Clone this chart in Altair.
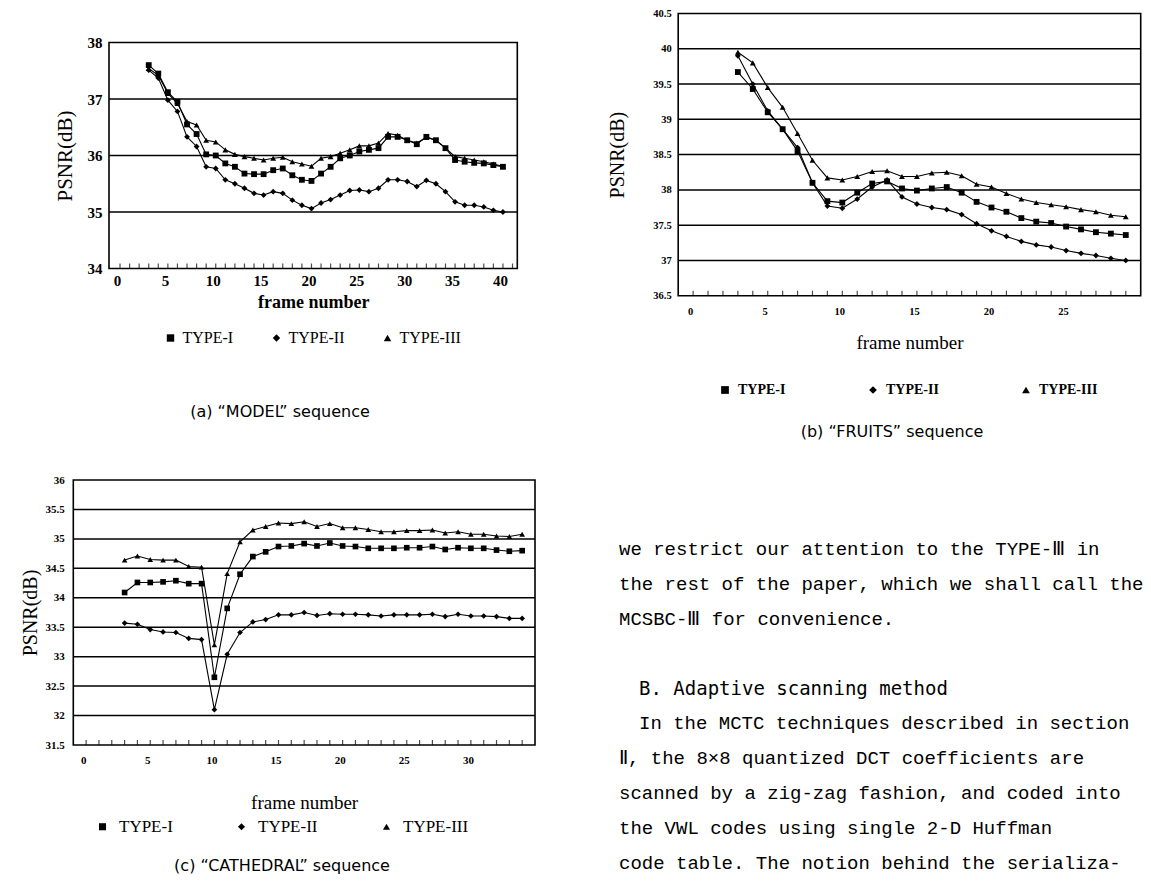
import altair as alt
import pandas as pd

SERIES = ["TYPE-I", "TYPE-II", "TYPE-III"]
SHAPES = ["square", "diamond", "triangle-up"]

# ---------------- (a) "MODEL" sequence ----------------
a_frames = list(range(3, 41))
a_type1 = [37.6, 37.45, 37.12, 36.95, 36.55, 36.38, 36.02, 36.0, 35.86, 35.80,
           35.68, 35.67, 35.67, 35.74, 35.77, 35.65, 35.57, 35.55, 35.68, 35.80,
           35.95, 36.0, 36.07, 36.1, 36.13, 36.33, 36.33, 36.27, 36.2, 36.33,
           36.27, 36.13, 35.92, 35.89, 35.87, 35.86, 35.83, 35.8]
a_type2 = [37.51, 37.37, 36.98, 36.78, 36.33, 36.16, 35.8, 35.77, 35.57, 35.5,
           35.42, 35.33, 35.3, 35.36, 35.33, 35.21, 35.12, 35.06, 35.16, 35.22,
           35.30, 35.38, 35.39, 35.36, 35.42, 35.57, 35.57, 35.54, 35.45, 35.56,
           35.50, 35.36, 35.18, 35.12, 35.12, 35.09, 35.03, 35.0]
a_type3 = [37.54, 37.42, 37.1, 36.92, 36.6, 36.54, 36.27, 36.24, 36.1, 36.02,
           35.98, 35.95, 35.92, 35.95, 35.97, 35.89, 35.85, 35.81, 35.95, 35.98,
           36.04, 36.1, 36.17, 36.17, 36.22, 36.39, 36.36, 36.27, 36.22, 36.32,
           36.27, 36.13, 35.98, 35.95, 35.92, 35.89, 35.85, 35.81]
a_grid = [35, 36, 37]
a_cats = list(range(0, 42))
a_xlabels = [0, 5, 10, 15, 20, 25, 30, 35, 40]
a_ylabels = [34, 35, 36, 37, 38]

# ---------------- (b) "FRUITS" sequence ----------------
b_frames = list(range(3, 30))
b_type1 = [39.67, 39.43, 39.1, 38.86, 38.55, 38.1, 37.84, 37.82, 37.96, 38.09,
           38.12, 38.02, 37.99, 38.02, 38.04, 37.96, 37.83, 37.75, 37.69, 37.6,
           37.55, 37.53, 37.48, 37.44, 37.4, 37.38, 37.36]
b_type2 = [39.9, 39.5, 39.12, 38.86, 38.6, 38.1, 37.77, 37.74, 37.87, 38.04,
           38.14, 37.9, 37.8, 37.75, 37.72, 37.65, 37.52, 37.42, 37.34, 37.27,
           37.22, 37.19, 37.14, 37.1, 37.07, 37.03, 37.0]
b_type3 = [39.95, 39.8, 39.45, 39.17, 38.8, 38.42, 38.17, 38.14, 38.19, 38.26,
           38.27, 38.19, 38.19, 38.24, 38.25, 38.2, 38.08, 38.04, 37.95, 37.87,
           37.82, 37.79, 37.76, 37.72, 37.69, 37.64, 37.62]
b_grid = [37, 37.5, 38, 38.5, 39, 39.5, 40]
b_cats = list(range(0, 30))
b_xlabels = [0, 5, 10, 15, 20, 25]
b_ylabels = [36.5, 37, 37.5, 38, 38.5, 39, 39.5, 40, 40.5]

# ---------------- (c) "CATHEDRAL" sequence ----------------
c_frames = list(range(3, 35))
c_type1 = [34.09, 34.26, 34.26, 34.27, 34.29, 34.24, 34.24, 32.65, 33.82, 34.4,
           34.7, 34.78, 34.87, 34.88, 34.92, 34.88, 34.93, 34.88, 34.87, 34.84,
           34.84, 34.84, 34.85, 34.85, 34.87, 34.82, 34.85, 34.84, 34.84, 34.81,
           34.79, 34.8]
c_type2 = [33.57, 33.55, 33.46, 33.42, 33.41, 33.31, 33.29, 32.1, 33.04, 33.41,
           33.59, 33.63, 33.71, 33.71, 33.75, 33.7, 33.73, 33.72, 33.72, 33.71,
           33.69, 33.71, 33.71, 33.71, 33.72, 33.68, 33.72, 33.69, 33.69, 33.68,
           33.65, 33.65]
c_type3 = [34.64, 34.71, 34.65, 34.64, 34.64, 34.53, 34.52, 33.2, 34.41, 34.95,
           35.15, 35.21, 35.27, 35.26, 35.29, 35.21, 35.26, 35.19, 35.19, 35.16,
           35.12, 35.12, 35.14, 35.14, 35.15, 35.1, 35.12, 35.08, 35.08, 35.05,
           35.04, 35.08]
c_grid = [32, 32.5, 33, 33.5, 34, 34.5, 35, 35.5]
c_cats = list(range(0, 35))
c_xlabels = [0, 5, 10, 15, 20, 25, 30]
c_ylabels = [31.5, 32, 32.5, 33, 33.5, 34, 34.5, 35, 35.5, 36]

captions = ["(a) \u201cMODEL\u201d sequence", "(b) \u201cFRUITS\u201d sequence",
            "(c) \u201cCATHEDRAL\u201d sequence"]

body_rows = [0, 1, 2, 5, 6, 7, 8, 9]
body_indent = [0, 0, 0, 1, 0, 0, 0, 0]
body_lines = [
    "we restrict our attention to the TYPE-\u2162 in",
    "the rest of the paper, which we shall call the",
    "MCSBC-\u2162 for convenience.",
    "In the MCTC techniques described in section",
    "\u2161, the 8\u00d78 quantized DCT coefficients are",
    "scanned by a zig-zag fashion, and coded into",
    "the VWL codes using single 2-D Huffman",
    "code table. The notion behind the serializa-",
]
heading_rows = [4]
heading_lines = ["B. Adaptive scanning method"]

# ---------------- layout (page pixels) ----------------
M = 8
W, H = 1151 - 2 * M, 887 - 2 * M
SERIF = "Liberation Serif"

LAYOUT = {
    "a": dict(box=(109, 42.5, 517.3, 268.5), xdom=[-1.15, 41.5], ydom=[34, 38],
              yfmt="d", tick_font=15, tick_weight="bold", xlab_pad=5, ylab_pad=7,
              xtitle_y=33.5, xtitle_size=18, xtitle_weight="bold",
              ytitle_x=-44, ytitle_size=21, msize=34,
              leg=dict(x=154.5, y=322, size=16, weight="normal", pad=35, off=4, sym=55)),
    "b": dict(box=(678.2, 13.5, 1140.7, 295.7), xdom=[-1, 30], ydom=[36.5, 40.5],
              yfmt="~f", tick_font=10.5, tick_weight="bold", xlab_pad=11, ylab_pad=7,
              xtitle_y=47, xtitle_size=19, xtitle_weight="normal",
              ytitle_x=-61, ytitle_size=20, msize=34,
              leg=dict(x=710, y=375, size=14, weight="bold", pad=80, off=6, sym=60)),
    "c": dict(box=(73.3, 480, 535, 745), xdom=[-1, 35], ydom=[31.5, 36],
              yfmt="~f", tick_font=11, tick_weight="bold", xlab_pad=9, ylab_pad=9,
              xtitle_y=57, xtitle_size=19, xtitle_weight="normal",
              ytitle_x=-43, ytitle_size=20, msize=32,
              leg=dict(x=86, y=810, size=17, weight="normal", pad=60, off=8, sym=50)),
}


def panel(key, frames, s1, s2, s3, grid, cats, xlabels, ylabels):
    L = LAYOUT[key]
    x0, y0, x1, y1 = L["box"]
    xr = [x0 - M, x1 - M]
    yr = [y1 - M, y0 - M]
    xdom, ydom = L["xdom"], L["ydom"]
    n = len(frames)
    df = pd.DataFrame({
        "frame": frames * 3,
        "psnr": s1 + s2 + s3,
        "series": [SERIES[0]] * n + [SERIES[1]] * n + [SERIES[2]] * n,
    })
    xs = alt.Scale(domain=xdom, range=xr, nice=False, zero=False)
    ys = alt.Scale(domain=ydom, range=yr, nice=False, zero=False)
    xaxis = alt.Axis(
        orient="bottom", offset=(y1 - M) - H, values=xlabels, format="d",
        grid=False, domain=False, ticks=False, tickSize=0,
        labelFont=SERIF, labelFontSize=L["tick_font"], labelFontWeight=L["tick_weight"],
        labelColor="black", labelPadding=L["xlab_pad"], labelOffset=-3,
        title="frame number", titleFont=SERIF, titleFontSize=L["xtitle_size"],
        titleFontWeight=L["xtitle_weight"], titleColor="black",
        titleY=L["xtitle_y"], titleBaseline="middle",
    )
    yaxis = alt.Axis(
        orient="left", offset=-(x0 - M), values=ylabels, format=L["yfmt"],
        grid=False, domain=False, ticks=False, tickSize=0,
        labelFont=SERIF, labelFontSize=L["tick_font"], labelFontWeight=L["tick_weight"],
        labelColor="black", labelPadding=L["ylab_pad"],
        title="PSNR(dB)", titleFont=SERIF, titleFontSize=L["ytitle_size"],
        titleFontWeight="normal", titleColor="black",
        titleX=L["ytitle_x"], titleBaseline="middle",
    )
    one = pd.DataFrame({"k": [0]})
    box = alt.Chart(one).mark_rect(fillOpacity=0, stroke="black", strokeWidth=1.6).encode(
        x=alt.XDatum(xdom[0], axis=xaxis, scale=xs), x2=alt.X2Datum(xdom[1]),
        y=alt.YDatum(ydom[0], axis=yaxis, scale=ys), y2=alt.Y2Datum(ydom[1]),
    )
    gridl = alt.Chart(pd.DataFrame({"g": grid})).mark_rule(color="black", strokeWidth=1.5).encode(
        y=alt.Y("g:Q", axis=yaxis, scale=ys),
        x=alt.XDatum(xdom[0], axis=xaxis, scale=xs), x2=alt.X2Datum(xdom[1]),
    )
    ticks = alt.Chart(pd.DataFrame({"t": cats})).mark_tick(
        orient="vertical", color="black", thickness=1.2, size=5, yOffset=-2.5
    ).encode(
        x=alt.X("t:Q", axis=xaxis, scale=xs),
        y=alt.YDatum(ydom[0], axis=yaxis, scale=ys),
    )
    lines = alt.Chart(df).mark_line(color="black", strokeWidth=1.1).encode(
        x=alt.X("frame:Q", scale=xs, axis=xaxis),
        y=alt.Y("psnr:Q", scale=ys, axis=yaxis),
        detail="series:N",
    )
    lg = L["leg"]
    points = alt.Chart(df).mark_point(filled=True, color="black", opacity=1, size=L["msize"]).encode(
        x=alt.X("frame:Q", scale=xs, axis=xaxis),
        y=alt.Y("psnr:Q", scale=ys, axis=yaxis),
        shape=alt.Shape(
            "series:N",
            scale=alt.Scale(domain=SERIES, range=SHAPES),
            legend=alt.Legend(
                orient="none", legendX=lg["x"], legendY=lg["y"], direction="horizontal",
                columns=3, title=None, padding=0, columnPadding=lg["pad"],
                labelOffset=lg["off"], labelFont=SERIF, labelFontSize=lg["size"],
                labelFontWeight=lg["weight"], labelColor="black", labelLimit=200,
                symbolSize=lg["sym"], symbolFillColor="black", symbolStrokeColor="black",
                symbolOpacity=1, symbolStrokeWidth=0,
            ),
        ),
    )
    return alt.layer(lines, points, gridl, box, ticks)


pa = panel("a", a_frames, a_type1, a_type2, a_type3, a_grid, a_cats, a_xlabels, a_ylabels)
pb = panel("b", b_frames, b_type1, b_type2, b_type3, b_grid, b_cats, b_xlabels, b_ylabels)
pc = panel("c", c_frames, c_type1, c_type2, c_type3, c_grid, c_cats, c_xlabels, c_ylabels)

# ---------------- body text ----------------
TX = alt.Scale(domain=[0, 1], range=[611, 631])
TY = alt.Scale(domain=[0, 9], range=[541, 855])
body = alt.Chart(pd.DataFrame({"row": body_rows, "indent": body_indent, "line": body_lines})).mark_text(
    align="left", baseline="middle", font="Liberation Mono", fontSize=19, color="black"
).encode(
    x=alt.X("indent:Q", scale=TX, axis=None),
    y=alt.Y("row:Q", scale=TY, axis=None),
    text="line:N",
)
heading = alt.Chart(pd.DataFrame({"row": heading_rows, "indent": [1], "line": heading_lines})).mark_text(
    align="left", baseline="middle", font="DejaVu Sans Mono", fontSize=19, color="black"
).encode(
    x=alt.X("indent:Q", scale=TX, axis=None),
    y=alt.Y("row:Q", scale=TY, axis=None),
    text="line:N",
)
text_block = alt.layer(body, heading)

CAP_POS = [(280, 412), (892, 432), (282, 866)]


def caption(i):
    cx, cy = CAP_POS[i]
    return alt.Chart(pd.DataFrame({"c": [captions[i]]})).mark_text(
        align="center", baseline="middle", font="DejaVu Sans", fontSize=16, color="black"
    ).encode(x=alt.value(cx - M), y=alt.value(cy - M), text="c:N")


chart = alt.layer(
    pa, pb, pc, text_block, caption(0), caption(1), caption(2)
).resolve_scale(
    x="independent", y="independent", shape="independent"
).resolve_axis(
    x="independent", y="independent"
).resolve_legend(
    shape="independent"
).properties(
    width=W, height=H, padding=0, autosize=alt.AutoSizeParams(type="none"),
    background="white",
).configure_view(strokeWidth=0)

chart.save("out.html", embed_options={"renderer": "svg", "actions": False})
